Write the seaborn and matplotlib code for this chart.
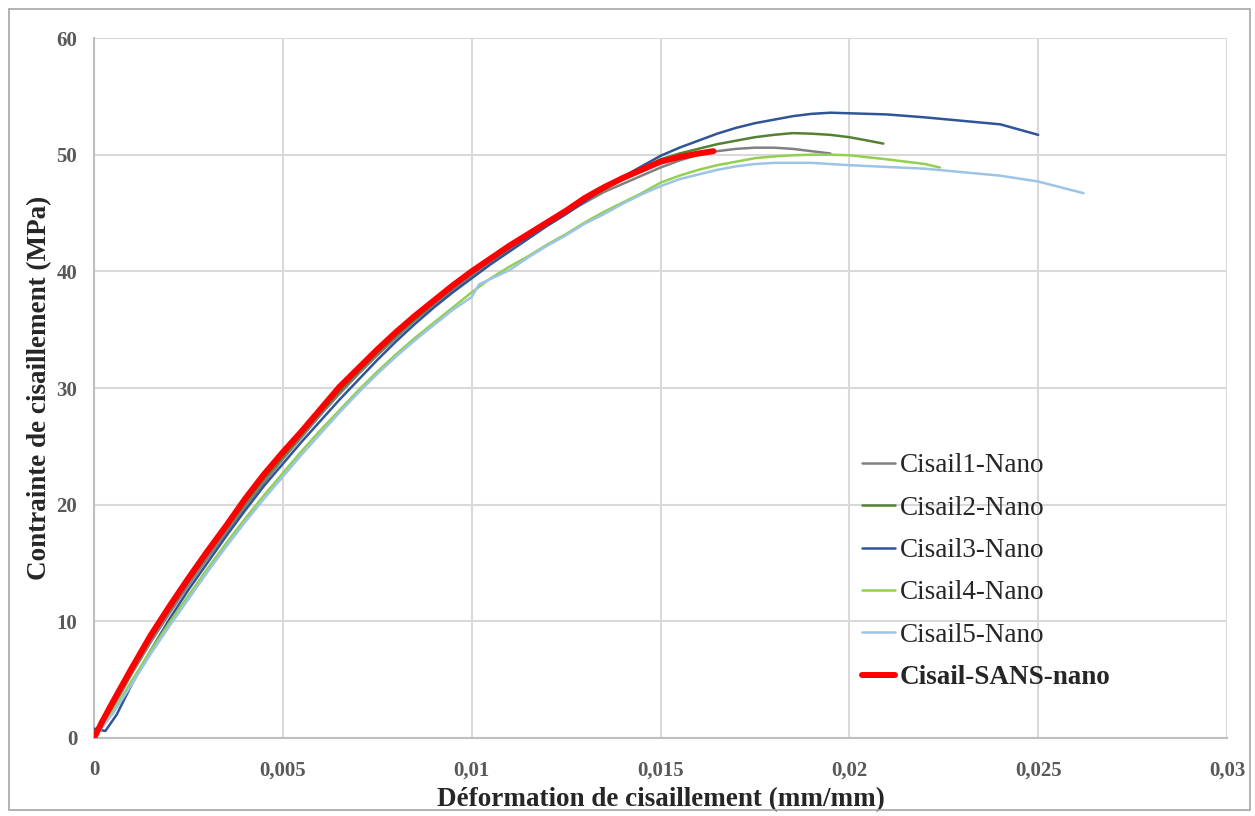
import matplotlib
matplotlib.use('Agg')
import matplotlib.pyplot as plt
import seaborn as sns
import pandas as pd
from matplotlib.patches import Rectangle

# courbes (deformation, contrainte)
x1 = [0, 0.0005, 0.001, 0.0015, 0.002, 0.0025, 0.003, 0.0035, 0.004, 0.0045, 0.005, 0.0055, 0.006, 0.0065,
      0.007, 0.0075, 0.008, 0.0085, 0.009, 0.0095, 0.01, 0.0105, 0.011, 0.0115, 0.012, 0.0125, 0.013, 0.0135,
      0.014, 0.0145, 0.015, 0.0155, 0.016, 0.0165, 0.017, 0.0175, 0.018, 0.0185, 0.019, 0.0195]
y1 = [0, 2.6, 5.5, 8.2, 10.7, 13.1, 15.4, 17.6, 19.8, 21.9, 23.9, 25.8, 27.7, 29.5,
      31.2, 32.8, 34.3, 35.8, 37.1, 38.4, 39.6, 40.8, 41.9, 43.0, 44.0, 45.0, 45.9, 46.8,
      47.5, 48.2, 48.9, 49.5, 50.0, 50.3, 50.5, 50.6, 50.6, 50.5, 50.3, 50.1]

x2 = [0, 0.0005, 0.001, 0.0015, 0.002, 0.0025, 0.003, 0.0035, 0.004, 0.0045, 0.005, 0.0055, 0.006, 0.0065,
      0.007, 0.0075, 0.008, 0.0085, 0.009, 0.0095, 0.01, 0.0105, 0.011, 0.0115, 0.012, 0.0125, 0.013, 0.0135,
      0.014, 0.0145, 0.015, 0.0155, 0.016, 0.0165, 0.017, 0.0175, 0.018, 0.0185, 0.019, 0.0195, 0.02, 0.0205, 0.0209]
y2 = [0, 2.8, 5.8, 8.5, 11.0, 13.4, 15.7, 17.9, 20.1, 22.2, 24.1, 26.0, 27.9, 29.7,
      31.4, 33.0, 34.5, 35.9, 37.3, 38.6, 39.8, 41.0, 42.1, 43.2, 44.2, 45.2, 46.1, 47.0,
      47.9, 48.8, 49.6, 50.1, 50.5, 50.9, 51.2, 51.5, 51.7, 51.85, 51.8, 51.7, 51.5, 51.2, 50.95]

x3 = [0, 0.0003, 0.0006, 0.001, 0.0015, 0.002, 0.0025, 0.003, 0.0035, 0.004, 0.0045, 0.005, 0.0055, 0.006,
      0.0065, 0.007, 0.0075, 0.008, 0.0085, 0.009, 0.0095, 0.01, 0.0105, 0.011, 0.0115, 0.012, 0.0125, 0.013,
      0.0135, 0.014, 0.0145, 0.015, 0.0155, 0.016, 0.0165, 0.017, 0.0175, 0.018, 0.0185, 0.019, 0.0195, 0.02,
      0.021, 0.022, 0.023, 0.024, 0.025]
y3 = [0.8, 0.6, 2.0, 4.6, 7.5, 10.2, 12.7, 15.0, 17.3, 19.5, 21.6, 23.5, 25.4, 27.2,
      29.0, 30.7, 32.4, 34.0, 35.5, 36.9, 38.2, 39.4, 40.6, 41.7, 42.8, 43.9, 44.9, 46.0,
      47.1, 48.1, 49.0, 49.9, 50.6, 51.2, 51.8, 52.3, 52.7, 53.0, 53.3, 53.5, 53.6, 53.55,
      53.45, 53.2, 52.9, 52.6, 51.7]

x4 = [0, 0.0005, 0.001, 0.0015, 0.002, 0.0025, 0.003, 0.0035, 0.004, 0.0045, 0.005, 0.0055, 0.006, 0.0065,
      0.007, 0.0075, 0.008, 0.0085, 0.009, 0.0095, 0.01, 0.0105, 0.011, 0.0115, 0.012, 0.0125, 0.013, 0.0135,
      0.014, 0.0145, 0.015, 0.0155, 0.016, 0.0165, 0.017, 0.0175, 0.018, 0.0185, 0.019, 0.0195, 0.02,
      0.021, 0.022, 0.0224]
y4 = [0, 2.3, 4.9, 7.5, 9.9, 12.2, 14.5, 16.7, 18.8, 20.8, 22.7, 24.6, 26.4, 28.1,
      29.8, 31.4, 32.9, 34.3, 35.6, 36.9, 38.2, 39.4, 40.4, 41.3, 42.3, 43.2, 44.2, 45.1,
      45.9, 46.7, 47.6, 48.2, 48.7, 49.1, 49.4, 49.7, 49.85, 49.95, 50.0, 50.0, 49.95,
      49.6, 49.2, 48.9]

x5 = [0, 0.0005, 0.001, 0.0015, 0.002, 0.0025, 0.003, 0.0035, 0.004, 0.0045, 0.005, 0.0055, 0.006, 0.0065,
      0.007, 0.0075, 0.008, 0.0085, 0.009, 0.0095, 0.01, 0.0102, 0.011, 0.0115, 0.012, 0.0125, 0.013, 0.0135,
      0.014, 0.0145, 0.015, 0.0155, 0.016, 0.0165, 0.017, 0.0175, 0.018, 0.019, 0.02, 0.021, 0.022, 0.023,
      0.024, 0.025, 0.0262]
y5 = [0, 2.1, 4.6, 7.2, 9.6, 11.9, 14.2, 16.4, 18.5, 20.5, 22.4, 24.3, 26.1, 27.9,
      29.6, 31.2, 32.7, 34.1, 35.4, 36.7, 37.8, 38.9, 40.1, 41.2, 42.2, 43.1, 44.1, 44.9,
      45.8, 46.6, 47.3, 47.9, 48.3, 48.7, 49.0, 49.2, 49.3, 49.3, 49.1, 48.95, 48.8, 48.5,
      48.2, 47.7, 46.7]

x_sans = [0, 0.0002, 0.0005, 0.001, 0.0015, 0.002, 0.0025, 0.003, 0.0035, 0.004, 0.0045, 0.005, 0.0055, 0.006,
          0.0065, 0.007, 0.0075, 0.008, 0.0085, 0.009, 0.0095, 0.01, 0.0105, 0.011, 0.0115, 0.012, 0.0125,
          0.013, 0.0135, 0.014, 0.0145, 0.015, 0.0155, 0.016, 0.0164]
y_sans = [0, 1.3, 3.1, 6.0, 8.8, 11.3, 13.7, 16.0, 18.2, 20.5, 22.6, 24.5, 26.3, 28.2,
          30.1, 31.7, 33.3, 34.8, 36.2, 37.5, 38.8, 40.0, 41.1, 42.2, 43.2, 44.2, 45.2,
          46.3, 47.2, 48.0, 48.7, 49.4, 49.8, 50.1, 50.3]

noms = ['Cisail1-Nano', 'Cisail2-Nano', 'Cisail3-Nano', 'Cisail4-Nano', 'Cisail5-Nano', 'Cisail-SANS-nano']
couleurs = ['#808080', '#548235', '#2f5597', '#92d050', '#9dc3e6', '#ff0000']
xticks = [0, 0.005, 0.01, 0.015, 0.02, 0.025, 0.03]
xticklabels = ['0', '0,005', '0,01', '0,015', '0,02', '0,025', '0,03']
yticks = [0, 10, 20, 30, 40, 50, 60]

sns.set_style('white')
plt.rcParams['font.family'] = ['Liberation Serif', 'DejaVu Serif']

fig = plt.figure(figsize=(12.55, 8.16), dpi=100)
ax = fig.add_axes([0.0749, 0.0956, 0.9028, 0.8578])
fig.patches.append(Rectangle((9 / 1255, 6 / 816), 1241 / 1255, 801 / 816, transform=fig.transFigure,
                             fill=False, edgecolor='#a6a6a6', linewidth=1.2))

series = [(x1, y1), (x2, y2), (x3, y3), (x4, y4), (x5, y5), (x_sans, y_sans)]
for i, (xs, ys) in enumerate(series):
    df = pd.DataFrame({'x': xs, 'y': ys})
    lw = 4.3 if i == 5 else 1.8
    sns.lineplot(data=df, x='x', y='y', ax=ax, color=couleurs[i], linewidth=lw,
                 sort=False, estimator=None, label=noms[i], zorder=3 + i)

ax.set_xlim(0, 0.03)
ax.set_ylim(0, 60)
ax.set_xticks(xticks)
ax.set_xticklabels(xticklabels)
ax.set_yticks(yticks)
ax.grid(True, color='#d9d9d9', linewidth=1.5)
ax.set_axisbelow(True)
for s in ['top', 'right']:
    ax.spines[s].set_visible(False)
for s in ['left', 'bottom']:
    ax.spines[s].set_color('#bfbfbf')
    ax.spines[s].set_linewidth(1.5)
ax.tick_params(axis='both', which='major', length=5, width=1.2, color='#bfbfbf',
               labelsize=15, labelcolor='#595959')
ax.tick_params(axis='x', pad=11)
ax.tick_params(axis='y', pad=7)
for lab in ax.get_xticklabels() + ax.get_yticklabels():
    lab.set_fontweight('bold')

ax.set_xlabel('Déformation de cisaillement (mm/mm)', fontsize=19.5, fontweight='bold', labelpad=5)
ax.set_ylabel('Contrainte de cisaillement (MPa)', fontsize=19.5, fontweight='bold', labelpad=3)

leg = ax.legend(loc='upper left', bbox_to_anchor=(0.668, 0.422), frameon=False, fontsize=19.5,
                handlelength=1.22, handletextpad=0.18, labelspacing=0.64, borderaxespad=0)
leg.get_texts()[5].set_fontweight('bold')

plt.savefig('out.png', dpi=100)
